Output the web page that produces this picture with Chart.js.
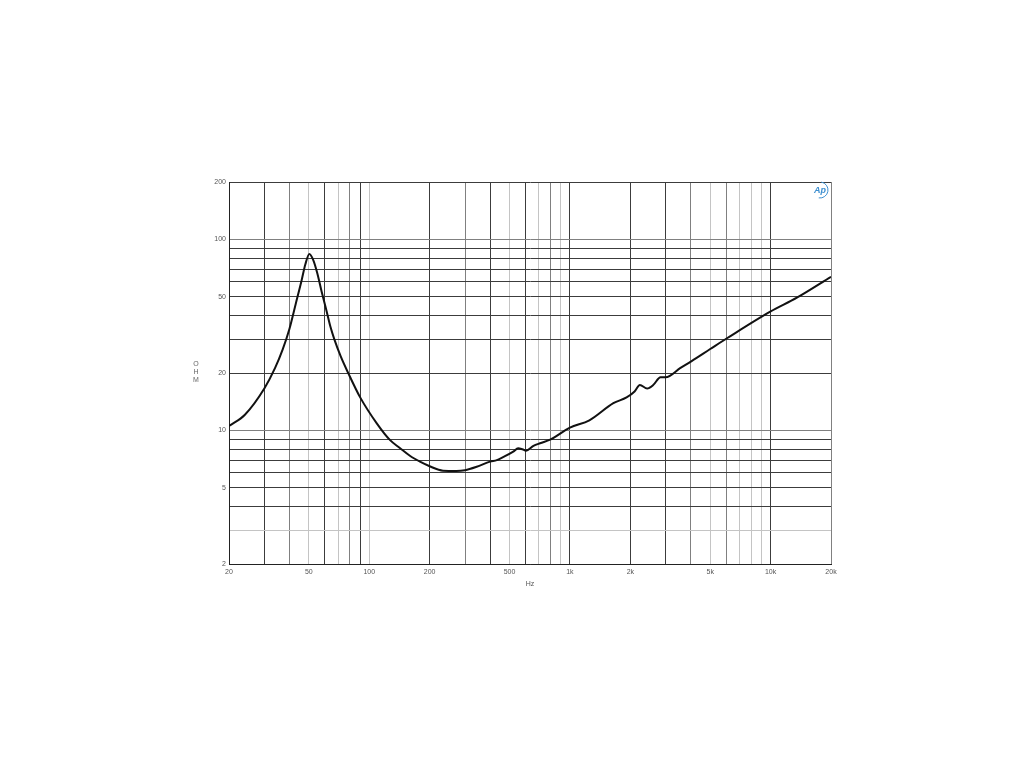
<!DOCTYPE html>
<html><head><meta charset="utf-8">
<script src="https://cdn.jsdelivr.net/npm/chart.js@4"></script>
<style>html,body{margin:0;padding:0;background:#fff;}canvas{display:block;}</style>
</head><body>
<canvas id="c" width="1024" height="768"></canvas>
<script>
// Impedance curve (Hz, Ohm)
const freqs = [20, 24, 30, 33.9, 37, 40, 43, 46, 48, 50.3, 52.6, 55, 58, 61, 64, 67, 72, 78.7, 89.8, 109, 127, 142, 160, 180, 200, 233, 272, 300, 343, 400, 432, 470, 522, 552, 580, 605, 658, 710, 797, 1000, 1250, 1646, 1916, 2100, 2232, 2426, 2600, 2828, 3000, 3540, 4040, 5000, 6060, 9960, 13520, 20000];
const ohms  = [10.55, 12.1, 16.6, 21.2, 26.5, 34, 46, 61, 74, 84, 78, 67, 53, 43, 35, 30, 24.5, 19.9, 15.0, 10.9, 8.9, 8.1, 7.35, 6.85, 6.5, 6.16, 6.14, 6.2, 6.46, 6.87, 7.0, 7.3, 7.75, 8.07, 7.97, 7.84, 8.3, 8.57, 8.95, 10.35, 11.3, 13.9, 14.9, 16.0, 17.3, 16.6, 17.3, 19.0, 19.0, 21.2, 23.1, 26.7, 30.4, 41.9, 49.6, 63.8];

const xTicks = [20,30,40,50,60,70,80,90,100,200,300,400,500,600,700,800,900,1000,2000,3000,4000,5000,6000,7000,8000,9000,10000,20000];
const xLabels = {20:'20',50:'50',100:'100',200:'200',500:'500',1000:'1k',2000:'2k',5000:'5k',10000:'10k',20000:'20k'};
const yTicks = [2,3,4,5,6,7,8,9,10,20,30,40,50,60,70,80,90,100,200];
const yLabels = {2:'2',5:'5',10:'10',20:'20',50:'50',100:'100',200:'200'};

const D = '#3c3c3c', M = '#808080', L = '#c4c4c4';
const xGrid = {20:D,30:D,40:M,50:L,60:D,70:L,80:M,90:D,100:L,200:D,300:M,400:D,500:L,600:D,700:L,800:M,900:L,1000:D,2000:D,3000:D,4000:M,5000:L,6000:M,7000:L,8000:L,9000:L,10000:D,20000:M};
const yGrid = {2:D,3:L,4:D,5:D,6:D,7:D,8:D,9:D,10:M,20:D,30:D,40:D,50:D,60:D,70:D,80:D,90:D,100:M,200:D};

const points = freqs.map((f, i) => ({x: f, y: ohms[i]}));
const tickFont = {family: 'Liberation Sans, Arial, sans-serif', size: 7};

const extras = {
  id: 'extras',
  afterDraw(chart) {
    const ctx = chart.ctx;
    ctx.save();
    ctx.fillStyle = '#666';
    ctx.font = '7px Liberation Sans, Arial, sans-serif';
    ctx.textAlign = 'center';
    ctx.textBaseline = 'middle';
    ['O','H','M'].forEach((ch, i) => ctx.fillText(ch, 196, 364 + i * 8));
    // Ap logo
    ctx.fillStyle = '#3d8fd0';
    ctx.strokeStyle = '#3d8fd0';
    ctx.font = 'italic bold 9px Liberation Sans, Arial, sans-serif';
    ctx.fillText('Ap', 820, 191);
    ctx.lineWidth = 1;
    ctx.beginPath();
    ctx.arc(820, 190, 8, -Math.PI * 0.45, Math.PI * 0.55);
    ctx.stroke();
    ctx.restore();
  }
};

new Chart(document.getElementById('c'), {
  type: 'line',
  data: {
    datasets: [{
      data: points,
      borderColor: '#111',
      borderWidth: 2,
      pointRadius: 0,
      fill: false,
      cubicInterpolationMode: 'monotone'
    }]
  },
  options: {
    responsive: false,
    animation: false,
    layout: {padding: {left: 189, right: 193, top: 182, bottom: 180}},
    plugins: {legend: {display: false}, tooltip: {enabled: false}},
    scales: {
      x: {
        type: 'logarithmic',
        min: 20, max: 20000,
        afterFit: s => { s.height = 24; },
        afterBuildTicks: s => { s.ticks = xTicks.map(v => ({value: v})); },
        grid: {
          drawTicks: false, lineWidth: 1,
          color: c => (c.tick && xGrid[c.tick.value]) || L
        },
        border: {display: true, color: '#222', width: 1},
        ticks: {
          autoSkip: false, maxRotation: 0, padding: 4,
          font: tickFont, color: '#555',
          callback: v => xLabels[v] || ''
        },
        title: {display: true, text: 'Hz', font: tickFont, color: '#555', padding: {top: 3, bottom: 0}}
      },
      y: {
        type: 'logarithmic',
        min: 2, max: 200,
        afterFit: s => { s.width = 40; },
        afterBuildTicks: s => { s.ticks = yTicks.map(v => ({value: v})); },
        grid: {
          drawTicks: false, lineWidth: 1,
          color: c => (c.tick && yGrid[c.tick.value]) || L
        },
        border: {display: true, color: '#222', width: 1},
        ticks: {
          autoSkip: false, padding: 3,
          font: tickFont, color: '#555',
          callback: v => yLabels[v] || ''
        }
      }
    }
  },
  plugins: [extras]
});
</script>
</body></html>
